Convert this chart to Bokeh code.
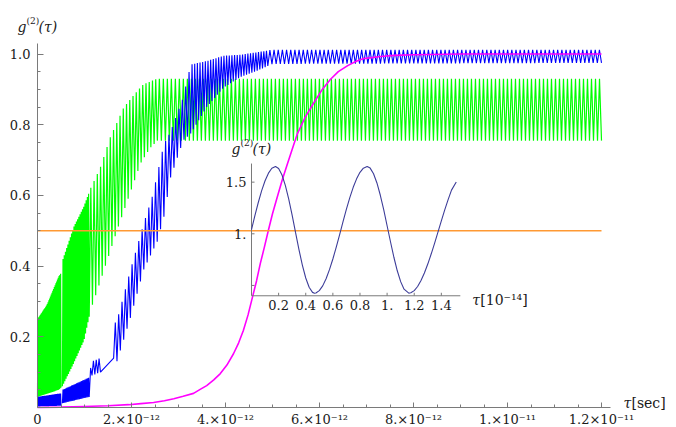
import numpy as np
from bokeh.plotting import figure
from bokeh.models import Range1d, FixedTicker, PrintfTickFormatter, Label
from bokeh.embed import file_html
from bokeh.resources import INLINE

# ---------------------------------------------------------------------------
# Data.  Delay tau is given in units of 1e-12 s.
# ---------------------------------------------------------------------------
x_tick_values = [0, 2, 4, 6, 8, 10, 12]
x_tick_labels = ["0", "2.×10⁻¹²", "4.×10⁻¹²", "6.×10⁻¹²",
                 "8.×10⁻¹²", "1.×10⁻¹¹", "1.2×10⁻¹¹"]
x_minor_values = [0.5, 1.0, 1.5, 2.5, 3.0, 3.5, 4.5, 5.0, 5.5, 6.5, 7.0, 7.5,
                  8.5, 9.0, 9.5, 10.5, 11.0, 11.5]
y_tick_values = [0.2, 0.4, 0.6, 0.8, 1.0]
y_minor_values = [0.05, 0.1, 0.15, 0.25, 0.3, 0.35, 0.45, 0.5, 0.55, 0.65,
                  0.7, 0.75, 0.85, 0.9, 0.95]
x_axis_end = 12.19
y_axis_end = 1.03

# green trace: upper / lower reach of its fast oscillation
green_hi_tau = [0.0, 0.2, 0.45, 0.50, 0.53, 0.77, 0.99, 1.13, 1.27, 1.34,
                1.55, 1.84, 2.12, 2.26, 2.55, 12.0]
green_hi = [0.25, 0.29, 0.37, 0.38, 0.415, 0.51, 0.57, 0.62, 0.66, 0.68,
            0.765, 0.85, 0.895, 0.915, 0.93, 0.93]
green_lo_tau = [0.0, 0.45, 0.53, 0.77, 0.99, 1.13, 1.27, 1.48, 1.69, 1.98,
                2.19, 2.40, 2.55, 12.0]
green_lo = [0.03, 0.05, 0.06, 0.125, 0.19, 0.275, 0.33, 0.415, 0.50, 0.61,
            0.69, 0.735, 0.755, 0.755]
# (start, end, oscillation count, joined to previous stretch)
green_runs = [(0.0, 0.50, 30, False), (0.53, 1.10, 22, False),
              (1.10, 2.55, 21, True), (2.55, 12.0, 111, True)]

# blue trace
blue_hi_tau = [0.0, 0.50, 0.53, 1.10, 1.15, 1.34, 1.62, 1.69, 1.98, 2.26,
               2.45, 2.69, 2.83, 3.10, 3.26, 3.60, 3.96, 4.32, 4.68, 5.0, 12.0]
blue_hi = [0.03, 0.04, 0.05, 0.085, 0.13, 0.14, 0.235, 0.245, 0.39, 0.52,
           0.60, 0.745, 0.78, 0.877, 0.97, 0.98, 0.995, 0.998, 1.005, 1.012, 1.012]
blue_lo_tau = [0.0, 0.50, 0.53, 1.10, 1.15, 1.34, 1.62, 1.69, 1.98, 2.26,
               2.55, 2.69, 2.83, 3.10, 3.26, 3.60, 3.96, 4.32, 4.68, 5.0, 12.0]
blue_lo = [0.003, 0.005, 0.012, 0.03, 0.09, 0.10, 0.14, 0.13, 0.255, 0.39,
           0.47, 0.54, 0.65, 0.755, 0.775, 0.85, 0.905, 0.935, 0.953, 0.972, 0.975]
blue_runs = [(0.0, 0.50, 30, False), (0.53, 1.10, 22, False),
             (1.10, 1.34, 4, True), (1.62, 3.26, 23, True),
             (3.26, 4.90, 29, True), (4.90, 12.0, 80, True)]

# magenta trace (smooth rise)
magenta_tau = [0.0, 0.5, 1.0, 1.5, 1.94, 2.2, 2.47, 2.7, 2.9, 3.1, 3.32, 3.47,
               3.6, 3.75, 3.89, 4.03, 4.17, 4.28, 4.38, 4.48, 4.57, 4.66, 4.74,
               4.83, 4.91, 5.0, 5.1, 5.21, 5.32, 5.43, 5.53, 5.7, 5.87, 6.05,
               6.23, 6.4, 6.6, 6.77, 6.94, 7.3, 7.6, 8.0, 9.0, 10.0, 12.0]
magenta_g2 = [0.0, 0.001, 0.003, 0.005, 0.008, 0.011, 0.014, 0.019, 0.025,
              0.032, 0.04, 0.052, 0.062, 0.078, 0.096, 0.12, 0.152, 0.183,
              0.218, 0.262, 0.31, 0.358, 0.407, 0.455, 0.50, 0.548, 0.595,
              0.645, 0.69, 0.735, 0.775, 0.822, 0.86, 0.898, 0.928, 0.95,
              0.967, 0.979, 0.987, 0.993, 0.996, 0.998, 1.0, 1.0, 1.0]

# reference level
half_tau = [0.0, 12.0]
half_g2 = [0.5, 0.5]

# inset: tau in units of 1e-14 s
inset_tau = [0.0, 0.025, 0.05, 0.075, 0.10, 0.125, 0.15, 0.177, 0.20, 0.225,
             0.25, 0.275, 0.30, 0.325, 0.35, 0.375, 0.40, 0.425, 0.45, 0.465,
             0.475, 0.50, 0.525, 0.55, 0.575, 0.60, 0.625, 0.65, 0.675, 0.70,
             0.725, 0.75, 0.775, 0.80, 0.825, 0.853, 0.875, 0.90, 0.925, 0.95,
             0.975, 1.00, 1.025, 1.05, 1.075, 1.10, 1.125, 1.16, 1.175, 1.20,
             1.225, 1.25, 1.275, 1.30, 1.325, 1.35, 1.375, 1.40, 1.425, 1.45,
             1.475, 1.51]
inset_g2 = [1.040, 1.175, 1.303, 1.418, 1.514, 1.587, 1.634, 1.651, 1.632,
            1.569, 1.467, 1.333, 1.178, 1.011, 0.847, 0.697, 0.572, 0.483,
            0.433, 0.425, 0.427, 0.450, 0.496, 0.565, 0.653, 0.756, 0.871,
            0.993, 1.117, 1.238, 1.350, 1.450, 1.532, 1.595, 1.635, 1.651,
            1.636, 1.581, 1.492, 1.373, 1.233, 1.078, 0.923, 0.773, 0.642,
            0.537, 0.464, 0.425, 0.429, 0.450, 0.490, 0.548, 0.620, 0.707,
            0.804, 0.908, 1.016, 1.125, 1.232, 1.331, 1.423, 1.501]
inset_x_ticks = [0.2, 0.4, 0.6, 0.8, 1.0, 1.2, 1.4]
inset_x_labels = ["0.2", "0.4", "0.6", "0.8", "1.", "1.2", "1.4"]
inset_y_ticks = [0.5, 1.0, 1.5]
inset_y_labels = ["", "1.", "1.5"]
inset_origin = (0.0, 0.4)
inset_x_end = 1.54
inset_y_end = 1.68

# ---------------------------------------------------------------------------
# Layout (pixels).  The frame fills the canvas; axes sit at the data origin.
# ---------------------------------------------------------------------------
W, H = 676, 427
X0_PX, X_PX = 37.0, 47.0        # screen x of tau=0, px per 1e-12 s
Y0_PX, Y_PX = 407.0, 353.5      # screen y of g2=0, px per unit
I_X0, I_XS = 251.0, 135.6       # inset: screen x of tau=0, px per unit
I_Y1, I_YS = 233.3, 103.3       # inset: screen y of g2=1, px per unit

FONT = "DejaVu Serif"
TEXT = "#1a1a1a"
AXIS = "#7a7a7a"


def oscillation_trace(hi_t, hi_v, lo_t, lo_v, runs):
    xs, ys = [], []
    for start, end, cycles, joined in runs:
        if xs and not joined:
            xs.append(np.nan)
            ys.append(np.nan)
        t = np.linspace(start, end, 2 * cycles + 1)
        top = np.interp(t, hi_t, hi_v)
        bottom = np.interp(t, lo_t, lo_v)
        xs.extend(t)
        ys.extend(np.where(np.arange(t.size) % 2 == 0, bottom, top))
    return np.array(xs), np.array(ys)


p = figure(width=W, height=H, output_backend="svg", toolbar_location=None,
           x_range=Range1d(-X0_PX / X_PX, (W - X0_PX) / X_PX),
           y_range=Range1d((Y0_PX - H) / Y_PX, Y0_PX / Y_PX),
           min_border=0)
p.outline_line_color = None
p.grid.visible = False
p.background_fill_color = "white"
p.border_fill_color = "white"

p.extra_x_ranges = {"ix": Range1d(-I_X0 / I_XS, (W - I_X0) / I_XS)}
p.extra_y_ranges = {"iy": Range1d(1 - (H - I_Y1) / I_YS, 1 + I_Y1 / I_YS)}

# main axes, crossing at the origin
xa = p.xaxis[0]
xa.fixed_location = 0
xa.bounds = (0, x_axis_end)
xa.ticker = FixedTicker(ticks=x_tick_values, minor_ticks=x_minor_values)
xa.major_label_overrides = {v: s for v, s in zip(x_tick_values, x_tick_labels)}
ya = p.yaxis[0]
ya.fixed_location = 0
ya.bounds = (0, y_axis_end)
ya.ticker = FixedTicker(ticks=y_tick_values, minor_ticks=y_minor_values)
ya.formatter = PrintfTickFormatter(format="%.1f")
for ax in (xa, ya):
    ax.axis_line_color = AXIS
    ax.major_tick_line_color = AXIS
    ax.minor_tick_line_color = AXIS
    ax.major_tick_out = 0
    ax.minor_tick_out = 0
    ax.minor_tick_in = 3
    ax.major_label_text_font = FONT
    ax.major_label_text_font_size = "13px"
    ax.major_label_text_color = TEXT
xa.major_tick_in = 5
xa.major_label_standoff = 4
ya.major_tick_in = 6
ya.major_label_standoff = 7

# traces
gx, gy = oscillation_trace(green_hi_tau, green_hi, green_lo_tau, green_lo, green_runs)
p.line(gx, gy, line_color="#00ff00", line_width=1.2)
bx, by = oscillation_trace(blue_hi_tau, blue_hi, blue_lo_tau, blue_lo, blue_runs)
p.line(bx, by, line_color="#0000ff", line_width=1.1)
p.line(magenta_tau, magenta_g2, line_color="#ff00ff", line_width=1.6)
p.line(half_tau, half_g2, line_color="#ff9933", line_width=1.4)

# inset
ir = dict(x_range_name="ix", y_range_name="iy")
ox, oy = inset_origin
p.segment(x0=[ox, ox], y0=[oy, oy], x1=[inset_x_end, ox], y1=[oy, inset_y_end],
          line_color=AXIS, line_width=1, **ir)
tx = 3.0 / I_XS
ty = 3.0 / I_YS
p.segment(x0=inset_x_ticks, y0=[oy] * len(inset_x_ticks),
          x1=inset_x_ticks, y1=[oy + ty] * len(inset_x_ticks),
          line_color=AXIS, line_width=1, **ir)
p.segment(x0=[ox] * len(inset_y_ticks), y0=inset_y_ticks,
          x1=[ox + tx] * len(inset_y_ticks), y1=inset_y_ticks,
          line_color=AXIS, line_width=1, **ir)
p.line(inset_tau, inset_g2, line_color="#3d3d99", line_width=1.1, **ir)


def text(x, y, s, size=13, dx=0, dy=0, italic=False, align="left",
         baseline="alphabetic", xr="default", yr="default"):
    p.add_layout(Label(x=x, y=y, text=s, x_offset=dx, y_offset=dy,
                       text_font=FONT, text_font_size=f"{size}px",
                       text_font_style="italic" if italic else "normal",
                       text_align=align, text_baseline=baseline,
                       text_color=TEXT, x_range_name=xr, y_range_name=yr))


for v, s in zip(inset_x_ticks, inset_x_labels):
    text(v, oy, s, dy=-4, align="center", baseline="top", xr="ix", yr="iy")
for v, s in zip(inset_y_ticks, inset_y_labels):
    if s:
        text(ox, v, s, dx=-5, align="right", baseline="middle", xr="ix", yr="iy")

# axis titles
text(0, y_axis_end, "g", size=14, dx=-20, dy=16, italic=True)
text(0, y_axis_end, "(2)", size=9, dx=-11, dy=22)
text(0, y_axis_end, "(τ)", size=14, dx=1, dy=16, italic=True)
text(x_axis_end, 0, "τ", size=14, dx=13, dy=5, italic=True)
text(x_axis_end, 0, "[sec]", size=14, dx=21, dy=5)

text(ox, inset_y_end, "g", size=14, dx=-20, dy=15, italic=True, xr="ix", yr="iy")
text(ox, inset_y_end, "(2)", size=9, dx=-11, dy=21, xr="ix", yr="iy")
text(ox, inset_y_end, "(τ)", size=14, dx=1, dy=15, italic=True, xr="ix", yr="iy")
text(inset_x_end, oy, "τ", size=14, dx=12, dy=-4, italic=True, xr="ix", yr="iy")
text(inset_x_end, oy, "[10⁻¹⁴]", size=14, dx=20, dy=-4, xr="ix", yr="iy")

open("out.html", "w").write(file_html(p, INLINE))
